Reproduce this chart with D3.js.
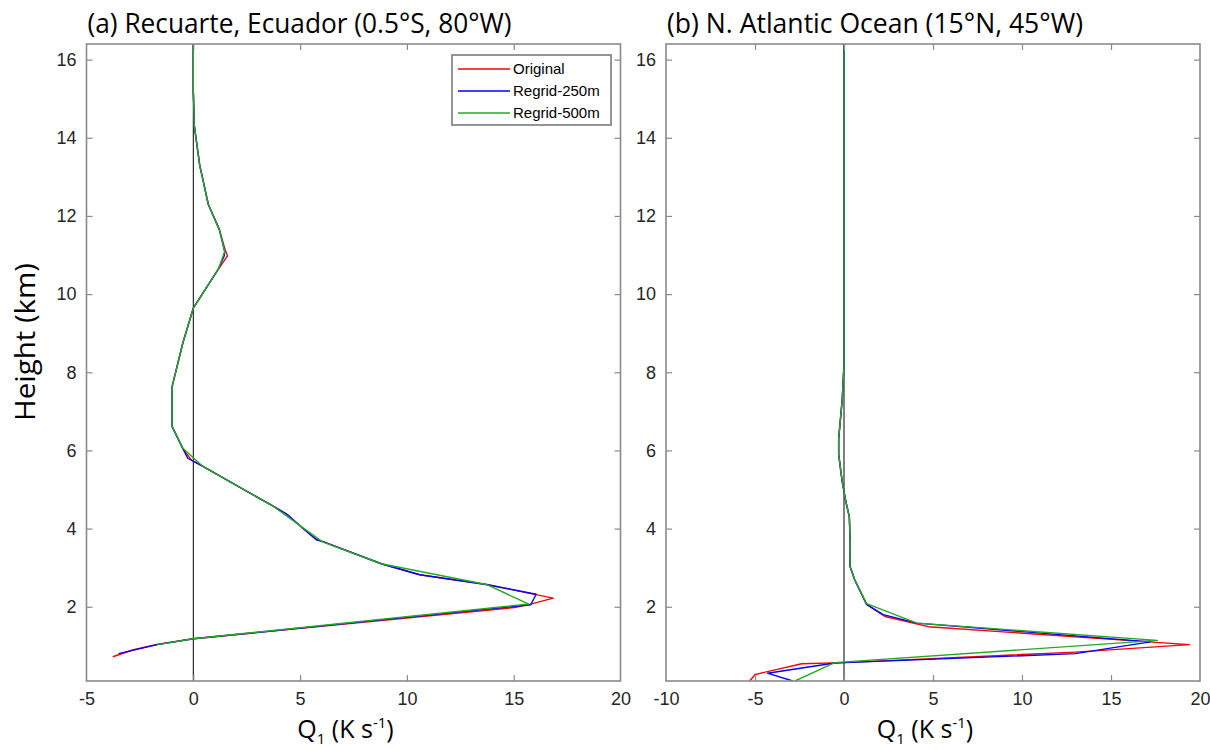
<!DOCTYPE html>
<html>
<head>
<meta charset="utf-8">
<script src="https://cdn.jsdelivr.net/npm/d3@7"></script>
<style>
  body { margin: 0; background: #fff; }
  svg { display: block; }
</style>
</head>
<body>
<svg id="chart" width="1210" height="749"></svg>
<script>
// Heating profiles Q1 (K s-1) against height (km)
var heightTicks = [2, 4, 6, 8, 10, 12, 14, 16];
var ecuadorQTicks = [-5, 0, 5, 10, 15, 20];
var atlanticQTicks = [-10, -5, 0, 5, 10, 15, 20];
var seriesNames = ["Original", "Regrid-250m", "Regrid-500m"];
var seriesColors = ["#ff0000", "#0000ff", "#22aa22"];

// [Q1, height]
var ecuadorOriginal = [[-3.77,0.72],[-2.8,0.9],[-1.65,1.04],[0,1.18],[15.04,1.98],[15.75,2.06],[16.85,2.22],
  [13.72,2.57],[10.6,2.82],[8.8,3.1],[6.1,3.66],[5.75,3.72],[5.1,4.02],[4.4,4.36],[3.72,4.58],[0.45,5.59],
  [-0.1,5.76],[-0.5,6.06],[-0.99,6.61],[-0.99,7.64],[-0.49,8.75],[0,9.64],[1.2,10.66],[1.6,10.98],[1.5,11.12],
  [1.22,11.65],[0.7,12.3],[0.3,13.3],[0.05,14.3],[0,15.2],[0,16.4]];
var ecuador250 = [[-3.5,0.8],[-1.7,1.03],[0,1.18],[15.8,2.05],[16.05,2.32],[13.72,2.57],[10.6,2.82],[8.8,3.1],
  [6.1,3.66],[5.75,3.72],[5.13,4.01],[4.35,4.38],[3.72,4.58],[0.45,5.59],[-0.26,5.8],[-0.5,6.06],[-0.99,6.61],
  [-0.99,7.64],[-0.49,8.75],[0,9.64],[1.19,10.66],[1.45,10.98],[1.47,11.09],[1.22,11.65],[0.7,12.3],[0.3,13.3],
  [0.05,14.3],[0,15.2],[0,16.4]];
var ecuador500 = [[-1.7,1.03],[0,1.18],[15.7,2.07],[13.72,2.57],[8.8,3.1],[6.05,3.66],[3.72,4.58],[0.45,5.59],
  [-0.5,6.06],[-0.99,6.61],[-0.99,7.64],[-0.49,8.75],[0,9.64],[1.19,10.66],[1.47,11.09],[1.22,11.65],[0.7,12.3],
  [0.3,13.3],[0.05,14.3],[0,15.2],[0,16.4]];

var atlanticOriginal = [[-5.3,0.1],[-5.0,0.26],[-4.68,0.3],[-2.38,0.54],[0,0.57],[13.0,0.84],[19.4,1.03],
  [4.74,1.49],[2.3,1.75],[1.27,2.06],[0.6,2.69],[0.34,3.03],[0.35,3.6],[0.3,4.3],[0.1,4.7],[-0.1,5.2],
  [-0.3,5.9],[-0.3,6.3],[-0.1,7.3],[0,8.2],[0,16.4]];
var atlantic250 = [[-2.88,0.1],[-4.3,0.3],[-0.52,0.56],[0,0.57],[13.0,0.8],[17.2,1.1],[4.1,1.58],[2.2,1.8],
  [1.27,2.06],[0.6,2.69],[0.34,3.03],[0.35,3.6],[0.3,4.3],[0.1,4.7],[-0.1,5.2],[-0.3,5.9],[-0.3,6.3],
  [-0.1,7.3],[0,8.2],[0,16.4]];
var atlantic500 = [[-2.75,0.1],[-0.52,0.57],[17.6,1.14],[4.1,1.58],[1.27,2.08],[0.6,2.69],[0.34,3.03],
  [0.35,3.6],[0.3,4.3],[0.1,4.7],[-0.1,5.2],[-0.3,5.9],[-0.3,6.3],[-0.1,7.3],[0,8.2],[0,16.4]];

var svg = d3.select("#chart");

// shared height scale
var y = d3.scaleLinear().domain([0.1, 16.4]).range([681, 44]);

var panels = [
  {id: "a", title: "(a) Recuarte, Ecuador (0.5°S, 80°W)", titleWidth: 424,
   x: d3.scaleLinear().domain([-5, 20]).range([86.5, 620.5]), ticks: ecuadorQTicks,
   series: [ecuadorOriginal, ecuador250, ecuador500], legend: true},
  {id: "b", title: "(b) N. Atlantic Ocean (15°N, 45°W)", titleWidth: 416,
   x: d3.scaleLinear().domain([-10, 20]).range([666, 1200]), ticks: atlanticQTicks,
   series: [atlanticOriginal, atlantic250, atlantic500], legend: false}
];

var tickFont = "'Liberation Sans', Arial, sans-serif";
var labelFont = "'Open Sans', 'Noto Sans', sans-serif";
var plainNum = function(d) { return String(d); };  // keeps the ASCII hyphen as minus

panels.forEach(function(p) {
  var x = p.x;
  var x0 = x.range()[0], x1 = x.range()[1];
  var g = svg.append("g");

  g.append("clipPath").attr("id", "clip-" + p.id)
    .append("rect")
    .attr("x", x0).attr("y", y.range()[1])
    .attr("width", x1 - x0).attr("height", y.range()[0] - y.range()[1]);

  // zero line
  g.append("line")
    .attr("x1", x(0)).attr("x2", x(0))
    .attr("y1", y.range()[0]).attr("y2", y.range()[1])
    .attr("stroke", "#000").attr("stroke-width", 1);

  // profiles
  var line = d3.line()
    .x(function(d) { return x(d[0]); })
    .y(function(d) { return y(d[1]); });

  g.append("g").attr("clip-path", "url(#clip-" + p.id + ")")
    .selectAll("path")
    .data(p.series)
    .enter()
    .append("path")
    .attr("d", line)
    .attr("fill", "none")
    .attr("stroke", function(d, i) { return seriesColors[i]; })
    .attr("stroke-width", 1.4)
    .attr("stroke-linejoin", "round");

  // axes, ticks pointing inwards on all four sides
  var bottom = g.append("g")
    .attr("transform", "translate(0," + y.range()[0] + ")")
    .call(d3.axisBottom(x).tickValues(p.ticks).tickFormat(plainNum).tickSize(-6).tickPadding(11).tickSizeOuter(0));
  var top = g.append("g")
    .attr("transform", "translate(0," + y.range()[1] + ")")
    .call(d3.axisTop(x).tickValues(p.ticks).tickSize(-6).tickFormat("").tickSizeOuter(0));
  var left = g.append("g")
    .attr("transform", "translate(" + x0 + ",0)")
    .call(d3.axisLeft(y).tickValues(heightTicks).tickFormat(plainNum).tickSize(-6).tickPadding(10).tickSizeOuter(0));
  var right = g.append("g")
    .attr("transform", "translate(" + x1 + ",0)")
    .call(d3.axisRight(y).tickValues(heightTicks).tickSize(-6).tickFormat("").tickSizeOuter(0));

  [bottom, top, left, right].forEach(function(a) {
    a.select(".domain").remove();
    a.selectAll(".tick line").attr("stroke", "#8a8a8a").attr("stroke-width", 1.2);
    a.selectAll(".tick text")
      .attr("fill", "#262626")
      .style("font-family", tickFont)
      .style("font-size", "18px");
  });
  // drop edge ticks that sit on the frame
  bottom.selectAll(".tick line").filter(function(d) { return d === x.domain()[0] || d === x.domain()[1]; }).remove();
  top.selectAll(".tick line").filter(function(d) { return d === x.domain()[0] || d === x.domain()[1]; }).remove();

  // frame
  g.append("rect")
    .attr("x", x0).attr("y", y.range()[1])
    .attr("width", x1 - x0).attr("height", y.range()[0] - y.range()[1])
    .attr("fill", "none").attr("stroke", "#8a8a8a").attr("stroke-width", 1.6);

  // title
  g.append("text")
    .attr("x", x0 + 1).attr("y", 33)
    .attr("textLength", p.titleWidth).attr("lengthAdjust", "spacingAndGlyphs")
    .style("font-family", labelFont).style("font-size", "27px").attr("fill", "#000")
    .text(p.title);

  // x label  Q1 (K s-1)
  var xl = g.append("text")
    .attr("x", (x0 + x1) / 2 - 8).attr("y", 738)
    .attr("text-anchor", "middle")
    .style("font-family", labelFont).style("font-size", "25px").attr("fill", "#000");
  xl.append("tspan").text("Q");
  xl.append("tspan").attr("dy", 6).style("font-size", "15px").text("1");
  xl.append("tspan").attr("dy", -6).text(" (K s");
  xl.append("tspan").attr("dy", -10).style("font-size", "15px").text("-1");
  xl.append("tspan").attr("dy", 10).text(")");

  // legend
  if (p.legend) {
    var lg = g.append("g");
    lg.append("rect")
      .attr("x", 452).attr("y", 55).attr("width", 159).attr("height", 70)
      .attr("fill", "#fff").attr("stroke", "#8a8a8a").attr("stroke-width", 1.8);
    seriesNames.forEach(function(name, i) {
      var yy = 69 + i * 22;
      lg.append("line")
        .attr("x1", 458).attr("x2", 510).attr("y1", yy).attr("y2", yy)
        .attr("stroke", seriesColors[i]).attr("stroke-width", 1.4);
      lg.append("text")
        .attr("x", 513).attr("y", yy).attr("dy", "0.35em")
        .style("font-family", tickFont).style("font-size", "15px").attr("fill", "#000")
        .text(name);
    });
  }
});

// y label
svg.append("text")
  .attr("transform", "translate(35,342) rotate(-90)")
  .attr("text-anchor", "middle")
  .attr("textLength", 158).attr("lengthAdjust", "spacingAndGlyphs")
  .style("font-family", labelFont).style("font-size", "27px").attr("fill", "#000")
  .text("Height (km)");
</script>
</body>
</html>
